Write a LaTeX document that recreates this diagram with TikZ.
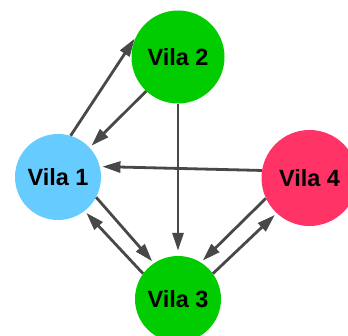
\documentclass[tikz,border=0pt]{standalone}
\usepackage{fontspec}
\setmainfont{Liberation Sans}
\usetikzlibrary{arrows.meta}
\definecolor{vgreen}{HTML}{00CC00}
\definecolor{vblue}{HTML}{66CCFF}
\definecolor{vred}{HTML}{FF3366}
\definecolor{edgegray}{HTML}{484848}
\begin{document}
\begin{tikzpicture}[x=1pt,y=-1pt,
  vila/.style={circle,inner sep=0pt,font=\fontsize{23.5}{26}\selectfont\bfseries,text=black},
  edge/.style={draw=edgegray,line width=2.8pt,
    -{Triangle[length=18pt,width=11pt]},shorten >=2.5pt}]
  \clip (0,0) rectangle (348,336);
  \fill[white] (0,0) rectangle (348,336);
  \node[vila,fill=vblue,minimum size=86pt]  (v1) at (58,177)    {Vila 1};
  \node[vila,fill=vgreen,minimum size=93pt] (v2) at (178,57)    {Vila 2};
  \node[vila,fill=vgreen,minimum size=86pt] (v3) at (178,299)   {Vila 3};
  \node[vila,fill=vred,minimum size=96pt]   (v4) at (309.5,178) {Vila 4};
  % Vila 1 <-> Vila 2
  \draw[edge] (v1.73) -- (v2.154.5);
  \draw[edge] (v2.227) -- (v1.43);
  % Vila 4 -> Vila 1, Vila 2 -> Vila 3
  \draw[edge] (v4.171.4) -- (v1.14.5);
  \draw[edge,shorten >=5pt] (v2.-90) -- (v3.90);
  % Vila 1 <-> Vila 3
  \draw[edge] (v1.-28.4) -- (v3.124);
  \draw[edge] (v3.144.8) -- (v1.-52.9);
  % Vila 3 <-> Vila 4
  \draw[edge] (v4.205.4) -- (v3.58.8);
  \draw[edge] (v3.36) -- (v4.227.7);
\end{tikzpicture}
\end{document}
